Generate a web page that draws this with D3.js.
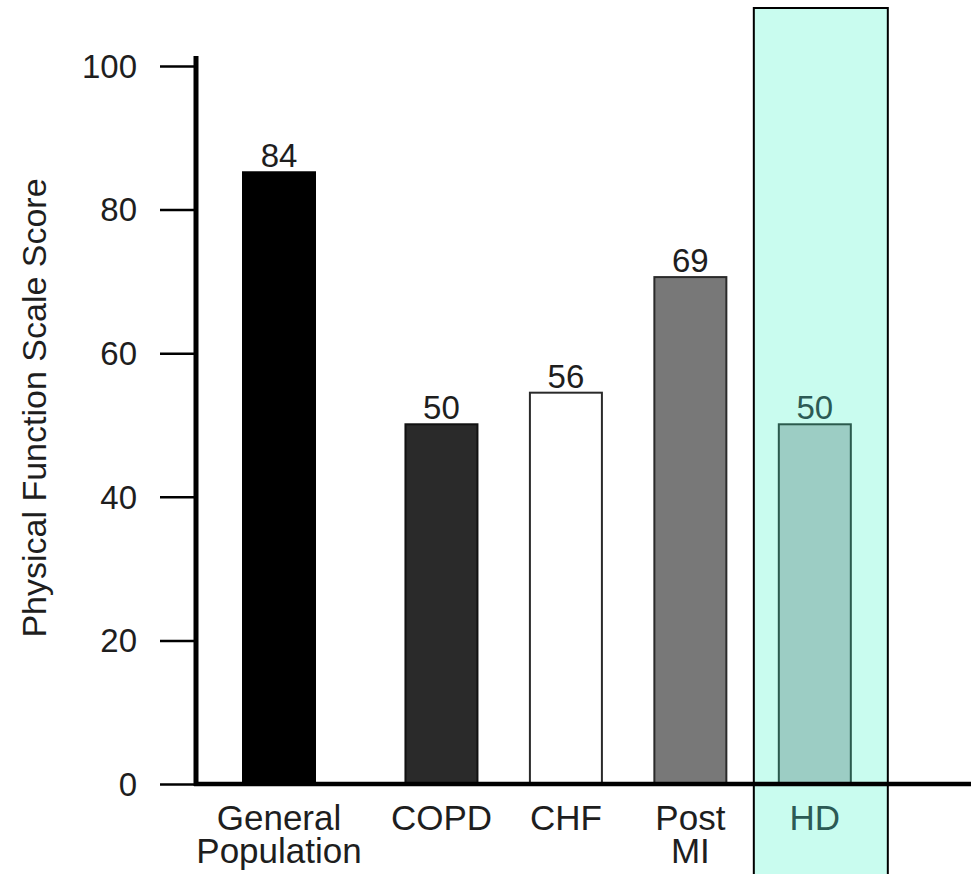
<!DOCTYPE html>
<html>
<head>
<meta charset="utf-8">
<script src="https://cdn.jsdelivr.net/npm/d3@7"></script>
<style>
  html, body { margin: 0; padding: 0; background: #fff; }
  svg { display: block; font-family: "Liberation Sans", Arial, Helvetica, sans-serif; }
</style>
</head>
<body>
<svg id="chart" width="971" height="874"></svg>
<script>
// ---- data ----
const categories = ["General Population", "COPD", "CHF", "Post MI", "HD"];
const categoryLines = [["General", "Population"], ["COPD"], ["CHF"], ["Post", "MI"], ["HD"]];
const barHeights = [85.2, 50.1, 54.5, 70.6, 50.1];   // bar tops as drawn in the picture
const valueLabels = ["84", "50", "56", "69", "50"];  // printed values
const yTicks = [0, 20, 40, 60, 80, 100];
const yTitle = "Physical Function Scale Score";
const highlighted = "HD";

// ---- styles ----
const fills   = ["#000000", "#2a2a2a", "#ffffff", "#787878", "#9ccdc4"];
const strokes = ["#000000", "#111111", "#2a2a2a", "#2a2a2a", "#2b5a4d"];
const textColor = "#1e1e1e";
const hlText = "#2c5a55";

const svg = d3.select("#chart");

const y = d3.scaleLinear().domain([0, 100]).range([784, 66]);
const x = d3.scaleBand().domain(categories).range([281, 851]).paddingInner(0.42).paddingOuter(0);
const firstGroupShift = -38;
const bx = (d, i) => x(d) + (i === 0 ? firstGroupShift : 0);
const bw = 72;

// highlight box for HD
const hx = bx(highlighted, categories.indexOf(highlighted)) + bw / 2;
svg.append("rect")
  .attr("x", hx - 61).attr("y", 8)
  .attr("width", 134).attr("height", 880)
  .attr("fill", "#c9fcef")
  .attr("stroke", "#000").attr("stroke-width", 2);

// bars
svg.append("g").selectAll("rect")
  .data(categories)
  .join("rect")
  .attr("x", (d, i) => bx(d, i))
  .attr("y", (d, i) => y(barHeights[i]))
  .attr("width", bw)
  .attr("height", (d, i) => y(0) - y(barHeights[i]))
  .attr("fill", (d, i) => fills[i])
  .attr("stroke", (d, i) => strokes[i])
  .attr("stroke-width", 2);

// value labels
svg.append("g").selectAll("text")
  .data(categories)
  .join("text")
  .attr("x", (d, i) => bx(d, i) + bw / 2)
  .attr("y", (d, i) => y(barHeights[i]) - 5)
  .attr("text-anchor", "middle")
  .attr("font-size", 33)
  .attr("fill", d => d === highlighted ? hlText : textColor)
  .text((d, i) => valueLabels[i]);

// y axis
const yAxis = d3.axisLeft(y).tickValues(yTicks).tickSize(36).tickPadding(23);
const gy = svg.append("g").attr("transform", "translate(196,0)").call(yAxis);
gy.select(".domain").remove();
gy.selectAll(".tick line").attr("stroke", "#000").attr("stroke-width", 2.5);
gy.selectAll(".tick text")
  .attr("font-size", 33)
  .attr("font-family", "Liberation Sans, Arial, sans-serif")
  .attr("fill", textColor)
  .attr("dy", "0.34em");

// axis lines
svg.append("line")
  .attr("x1", 196).attr("x2", 196)
  .attr("y1", 56).attr("y2", y(0) + 2)
  .attr("stroke", "#000").attr("stroke-width", 5);
svg.append("line")
  .attr("x1", 194).attr("x2", 971)
  .attr("y1", y(0)).attr("y2", y(0))
  .attr("stroke", "#000").attr("stroke-width", 4.5);

// category labels
const gx = svg.append("g");
categories.forEach((d, i) => {
  const t = gx.append("text")
    .attr("x", bx(d, i) + bw / 2)
    .attr("y", 830)
    .attr("text-anchor", "middle")
    .attr("font-size", 35)
    .attr("fill", d === highlighted ? hlText : textColor);
  categoryLines[i].forEach((line, j) => {
    t.append("tspan")
      .attr("x", bx(d, i) + bw / 2)
      .attr("dy", j === 0 ? 0 : 33)
      .text(line);
  });
});

// y title
svg.append("text")
  .attr("transform", "translate(46,408) rotate(-90)")
  .attr("text-anchor", "middle")
  .attr("font-size", 34)
  .attr("fill", textColor)
  .text(yTitle);
</script>
</body>
</html>
